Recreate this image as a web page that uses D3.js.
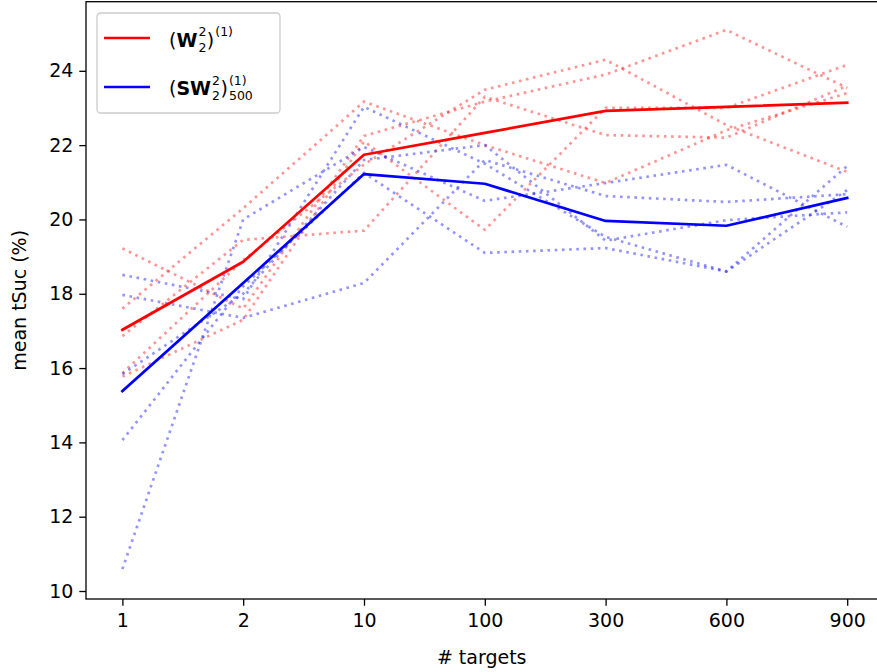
<!DOCTYPE html>
<html>
<head>
<meta charset="utf-8">
<script src="https://cdn.jsdelivr.net/npm/d3@7"></script>
<style>
  body { margin: 0; background: #fff; }
  svg { display: block; }
  text { font-family: "DejaVu Sans", sans-serif; fill: #000; }
</style>
</head>
<body>
<svg id="chart" width="877" height="672"></svg>
<script>
// Number of targets (categorical x axis)
const targets = ["1", "2", "10", "100", "300", "600", "900"];
const yTicks = [10, 12, 14, 16, 18, 20, 22, 24];

// Mean tSuc (%) of each method
const w2Mean  = [17.03, 18.86, 21.74, 22.33, 22.92, 23.03, 23.14];
const sw2Mean = [15.38, 18.29, 21.22, 20.96, 19.96, 19.83, 20.58];

// Individual runs, W2^2 (red, dotted)
const w2Run1 = [17.60, 20.30, 23.17, 22.00, 20.98, 22.40, 23.40];
const w2Run2 = [16.86, 19.45, 19.70, 23.30, 22.27, 22.20, 23.60];
const w2Run3 = [15.77, 17.30, 22.10, 19.72, 23.00, 23.00, 24.16];
const w2Run4 = [19.22, 17.60, 22.25, 23.17, 23.90, 25.10, 23.54];
const w2Run5 = [15.86, 18.90, 21.48, 23.49, 24.30, 22.54, 21.28];

// Individual runs, SW2^2 with 500 projections (blue, dotted)
const sw2Run1 = [10.59, 20.00, 21.95, 20.50, 20.98, 21.47, 19.80];
const sw2Run2 = [17.97, 17.35, 18.29, 21.60, 20.63, 20.47, 20.68];
const sw2Run3 = [18.51, 17.86, 23.03, 21.50, 19.53, 18.60, 21.44];
const sw2Run4 = [15.84, 18.00, 21.60, 22.00, 19.43, 19.98, 20.19];
const sw2Run5 = [14.06, 18.20, 21.25, 19.10, 19.23, 18.60, 20.79];

const w2Runs  = [w2Run1, w2Run2, w2Run3, w2Run4, w2Run5];
const sw2Runs = [sw2Run1, sw2Run2, sw2Run3, sw2Run4, sw2Run5];

const RED = "#ff0000", BLUE = "#0000ff";
const svg = d3.select("#chart");

// Plot frame
const frame = { left: 86, right: 883.4, top: 1.7, bottom: 599 };

const x = d3.scalePoint()
  .domain(targets)
  .range([122.4, 847.2]);

const y = d3.scaleLinear()
  .domain([9.785, 25.86])
  .range([frame.bottom, frame.top]);

const line = d3.line()
  .x((d, i) => x(targets[i]))
  .y(d => y(d));

const plot = svg.append("g");

function drawRuns(runs, color) {
  plot.append("g").selectAll("path")
    .data(runs)
    .join("path")
    .attr("d", line)
    .attr("fill", "none")
    .attr("stroke", color)
    .attr("stroke-opacity", 0.42)
    .attr("stroke-width", 2.7)
    .attr("stroke-dasharray", "2.6,4.6");
}

drawRuns(w2Runs, RED);
drawRuns(sw2Runs, BLUE);

function drawMean(values, color) {
  plot.append("path")
    .datum(values)
    .attr("d", line)
    .attr("fill", "none")
    .attr("stroke", color)
    .attr("stroke-width", 2.7)
    .attr("stroke-linejoin", "round")
    .attr("stroke-linecap", "square");
}
drawMean(w2Mean, RED);
drawMean(sw2Mean, BLUE);

// Axes
const xAxis = svg.append("g")
  .attr("transform", `translate(0,${frame.bottom})`)
  .call(d3.axisBottom(x).tickSizeOuter(0).tickSize(6.7).tickPadding(6));
const yAxis = svg.append("g")
  .attr("transform", `translate(${frame.left},0)`)
  .call(d3.axisLeft(y).tickValues(yTicks).tickSizeOuter(0).tickSize(6.7).tickPadding(6));

[xAxis, yAxis].forEach(ax => {
  ax.select(".domain").remove();
  ax.selectAll(".tick line").attr("stroke", "#000").attr("stroke-width", 1.3);
  ax.selectAll(".tick text")
    .attr("fill", "#000")
    .style("font-family", "'DejaVu Sans', sans-serif")
    .style("font-size", "19px");
});
xAxis.selectAll(".tick text").attr("dy", "0.71em").attr("y", 15);

// Frame spines
svg.append("rect")
  .attr("x", frame.left).attr("y", frame.top)
  .attr("width", frame.right - frame.left)
  .attr("height", frame.bottom - frame.top)
  .attr("fill", "none")
  .attr("stroke", "#000")
  .attr("stroke-width", 1.3);

// Axis titles
svg.append("text")
  .attr("x", (frame.left + frame.right) / 2 - 3)
  .attr("y", 664)
  .attr("text-anchor", "middle")
  .style("font-size", "19px")
  .text("# targets");

svg.append("text")
  .attr("transform", `translate(26,${(frame.top + frame.bottom) / 2}) rotate(-90)`)
  .attr("text-anchor", "middle")
  .style("font-size", "19px")
  .text("mean tSuc (%)");

// Legend
const legend = svg.append("g");
legend.append("rect")
  .attr("x", 97).attr("y", 13)
  .attr("width", 183).attr("height", 100)
  .attr("rx", 3.5)
  .attr("fill", "#fff").attr("fill-opacity", 0.8)
  .attr("stroke", "#cccccc").attr("stroke-width", 1.3);

const legendItems = [
  { color: RED,  yLine: 38, base: 46.5,
    parts: [["(", "n"], ["W", "b"], ["2", "ss", "2"], [")", "n"], ["(1)", "sup"]] },
  { color: BLUE, yLine: 87, base: 95,
    parts: [["(", "n"], ["SW", "b"], ["2", "ss", "2"], [")", "n"], ["(1)", "ss", "500"]] }
];

const MAIN = 19, SCRIPT = 12.5, SUP = -10.5, SUB = 5;

// width of a text run at a given size/weight
function textWidth(str, size, bold) {
  const t = svg.append("text")
    .style("font-size", size + "px")
    .style("font-weight", bold ? "bold" : "normal")
    .text(str);
  const w = t.node().getComputedTextLength();
  t.remove();
  return w;
}

legendItems.forEach(item => {
  legend.append("line")
    .attr("x1", 104).attr("x2", 150)
    .attr("y1", item.yLine).attr("y2", item.yLine)
    .attr("stroke", item.color).attr("stroke-width", 2.7);

  // one text element per label; scripts are tspans placed absolutely
  const label = legend.append("text").style("font-size", MAIN + "px");
  let cx = 169;
  item.parts.forEach(([txt, kind, subTxt]) => {
    if (kind === "n" || kind === "b") {
      label.append("tspan")
        .attr("x", cx).attr("y", item.base)
        .style("font-weight", kind === "b" ? "bold" : "normal")
        .text(txt);
      cx += textWidth(txt, MAIN, kind === "b");
    } else {
      const gap = 1;
      label.append("tspan")
        .attr("x", cx + gap).attr("y", item.base + SUP)
        .style("font-size", SCRIPT + "px")
        .text(txt);
      let wdt = textWidth(txt, SCRIPT, false);
      if (kind === "ss") {
        label.append("tspan")
          .attr("x", cx + gap).attr("y", item.base + SUB)
          .style("font-size", SCRIPT + "px")
          .text(subTxt);
        wdt = Math.max(wdt, textWidth(subTxt, SCRIPT, false));
      }
      cx += wdt + gap + 0.5;
    }
  });
});
</script>
</body>
</html>
